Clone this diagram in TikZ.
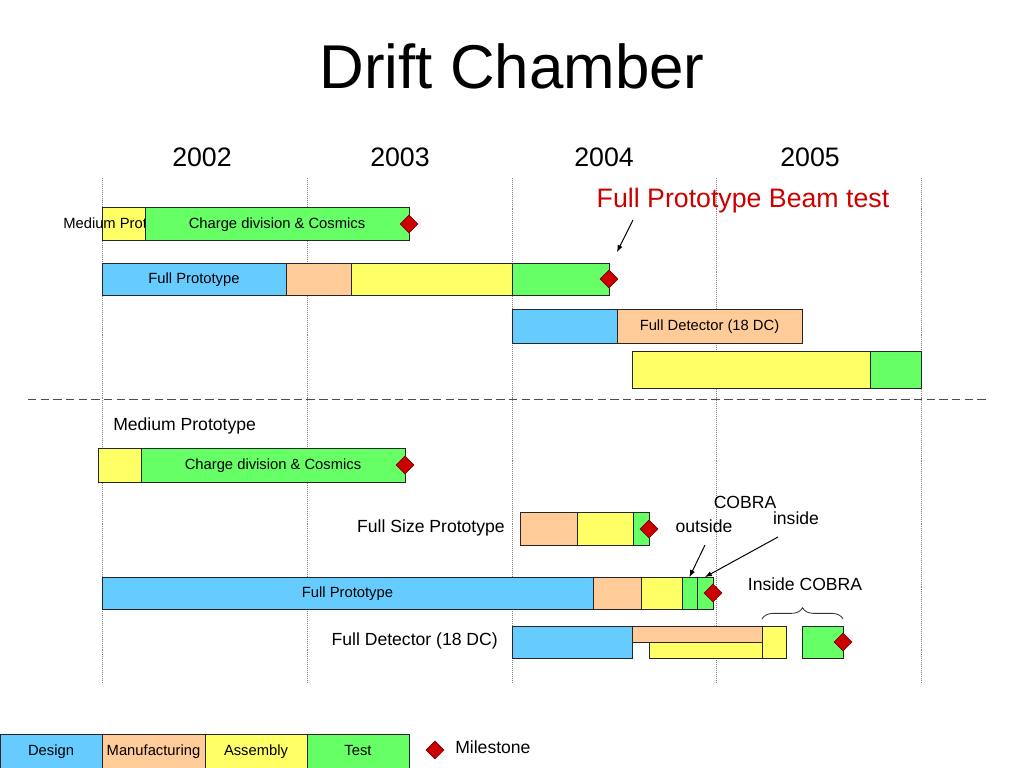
\documentclass[tikz,border=0pt]{standalone}
\usepackage{fontspec}
\setmainfont{Liberation Sans}
\usetikzlibrary{shapes.geometric,arrows,decorations.pathreplacing,positioning,calc}
\definecolor{design}{HTML}{66CCFF}
\definecolor{manuf}{HTML}{FFCC99}
\definecolor{assem}{HTML}{FFFF66}
\definecolor{testg}{HTML}{66FF66}
\definecolor{mile}{HTML}{CC0000}
\tikzset{
  bar/.style={
    draw=black!85,
    line width=0.6pt,
    rectangle,
    anchor=west,
    inner sep=0pt,
    outer sep=0pt,
    minimum height=33*0.025cm,
    text height=1.55ex,
    text depth=0.45ex,
    font=\fontsize{10.5}{12}\selectfont,
  },
  barw/.style={minimum width=#1*0.025cm},
  barh/.style={minimum height=#1*0.025cm},
  milestone/.style={diamond, draw=black!40!mile, fill=mile, inner sep=0pt,
    minimum width=18*0.025cm, minimum height=18*0.025cm},
  lbl/.style={inner sep=0pt, text height=1.55ex, text depth=0.45ex, font=\fontsize{12.5}{14}\selectfont},
  smalllbl/.style={inner sep=0pt, text height=1.55ex, text depth=0.45ex, font=\fontsize{10.5}{12}\selectfont},
  year/.style={inner sep=0pt, font=\fontsize{19}{22}\selectfont},
}

\begin{document}
\begin{tikzpicture}[x=0.025cm, y=-0.025cm]
        \useasboundingbox (0,0) rectangle (1024,768);

        \node[inner sep=0pt, font=\fontsize{44}{50}\selectfont] (title) at (512,66) {Drift Chamber};

        \node[year] (y2) at (202,157) {2002};
        \node[year] (y3) at (400,157) {2003};
        \node[year] (y4) at (604,157) {2004};
        \node[year] (y5) at (810,157) {2005};

        % year grid
        \foreach \gx in {102,307,512,716,921}
          \draw[densely dotted, gray] (\gx,178) -- (\gx,682);

        \coordinate (dl) at (28,399);
        \coordinate (dr) at (988,399);
        \draw[black!70, dash pattern=on 6pt off 3pt] (dl) -- (dr);

        % upper plan
        \node[bar, fill=assem, barw=43] (medY) at (102,224) {};
        \node[smalllbl, anchor=west] (medL) at (63,224) {Medium Prototype};
        \node[bar, fill=testg, barw=264] (medG) at (145,224) {Charge division \& Cosmics};
        \node[milestone] (medM) at (medG.east) {};

        \node[bar, fill=design, barw=184, barh=32] (fpB) at (102,279) {Full Prototype};
        \node[bar, fill=manuf, barw=65, barh=32] (fpO) at (fpB.east) {};
        \node[bar, fill=assem, barw=161, barh=32] (fpY) at (fpO.east) {};
        \node[bar, fill=testg, barw=97, barh=32] (fpG) at (fpY.east) {};
        \node[milestone] (fpM) at (fpG.east) {};

        \node[bar, fill=design, barw=105, barh=34] (fdB) at (512,326) {};
        \node[bar, fill=manuf, barw=185, barh=34] (fdO) at (fdB.east) {Full Detector (18 DC)};

        \node[bar, fill=assem, barw=238, barh=37] (fdY) at (632,370) {};
        \node[bar, fill=testg, barw=51, barh=37] (fdG) at (fdY.east) {};

        \node[inner sep=0pt, text=mile, font=\fontsize{19}{22}\selectfont] (beam) at (743,201) {Full Prototype Beam test};
        \coordinate (beamS) at (633,220);
        \coordinate (beamE) at (617,252);
        \draw[-latex, line width=0.7pt] (beamS) -- (beamE);

        % lower plan
        \node[lbl, anchor=west] (mpL) at (113,426) {Medium Prototype};
        \node[bar, fill=assem, barw=43, barh=34] (mpY) at (98,465) {};
        \node[bar, fill=testg, barw=264, barh=34] (mpG) at (mpY.east) {Charge division \& Cosmics};
        \node[milestone] (mpM) at (mpG.east) {};

        \node[lbl, anchor=east] (fsL) at (505,528) {Full Size Prototype};
        \node[bar, fill=manuf, barw=57] (fsO) at (520,529) {};
        \node[bar, fill=assem, barw=56] (fsY) at (fsO.east) {};
        \node[bar, fill=testg, barw=16] (fsG) at (fsY.east) {};
        \node[milestone] (fsM) at (fsG.east) {};

        \node[bar, fill=design, barw=491, barh=32] (fullB) at (102,593) {Full Prototype};
        \node[bar, fill=manuf, barw=48, barh=32] (fullO) at (fullB.east) {};
        \node[bar, fill=assem, barw=41, barh=32] (fullY) at (fullO.east) {};
        \node[bar, fill=testg, barw=15, barh=32] (fullG) at (fullY.east) {};
        \node[bar, fill=testg, barw=16, barh=32] (fullI) at (fullG.east) {};
        \node[milestone] (fullM) at (fullI.east) {};

        \node[lbl] (cobra) at (745,504) {COBRA};
        \node[lbl] (outs) at (704,528) {outside};
        \node[lbl] (ins) at (796,520) {inside};
        \coordinate (outsS) at (705,545);
        \coordinate (insS) at (778,537);
        \draw[-latex, line width=0.7pt] (outsS) -- (fullG.north);
        \draw[-latex, line width=0.7pt] (insS) -- (fullI.north);

        \node[lbl] (insC) at (805,586) {Inside COBRA};
        \coordinate (brL) at (762,619);
        \coordinate (brR) at (843,619);
        \draw[decorate, decoration={brace, amplitude=8pt}, line width=0.6pt, black!80] (brL) -- (brR);

        \node[lbl, anchor=east] (detL) at (498,641) {Full Detector (18 DC)};
        \node[bar, fill=design, barw=120, barh=32] (detB) at (512,642) {};
        \node[bar, fill=manuf, barw=130, barh=16] (detO) at (632,634) {};
        \node[bar, fill=assem, barw=113, barh=16] (detY) at (649,650) {};
        \node[bar, fill=assem, barw=24, barh=32] (detA) at (762,642) {};
        \node[bar, fill=testg, barw=41, barh=32] (detG) at (802,642) {};
        \node[milestone] (detM) at (detG.east) {};

        % legend
        \node[bar, fill=design, barw=102, barh=34] (lgD) at (0,751) {Design};
        \node[bar, fill=manuf, barw=103, barh=34] (lgM) at (lgD.east) {Manufacturing};
        \node[bar, fill=assem, barw=102, barh=34] (lgA) at (lgM.east) {Assembly};
        \node[bar, fill=testg, barw=102, barh=34] (lgT) at (lgA.east) {Test};
        \node[milestone] (lgS) at (435,750) {};
        \node[lbl, anchor=west] (lgL) at (455,749) {Milestone};

      \end{tikzpicture}
\end{document}
